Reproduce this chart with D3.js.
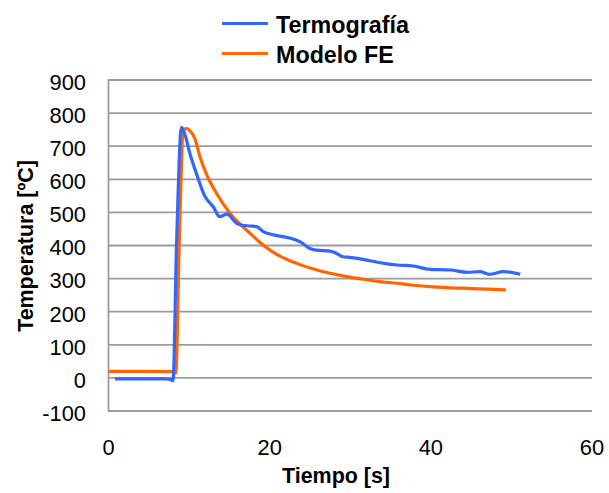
<!DOCTYPE html>
<html>
<head>
<meta charset="utf-8">
<script src="https://cdn.jsdelivr.net/npm/d3@7"></script>
<style>
  html, body { margin: 0; padding: 0; background: #fff; }
  svg { display: block; font-family: "Liberation Sans", Arial, Helvetica, sans-serif; }
</style>
</head>
<body>
<script>
// ---- data ----
const seriesNames = ["Termografía", "Modelo FE"];
const termoTimes  = [0.8, 3, 5, 7, 7.6, 8.0, 8.46, 9.05, 9.5, 10.1, 10.9, 12.0, 13.0, 13.8, 14.7, 15.9, 16.5, 17.6, 18.4, 19.2, 20.5, 22.6, 23.8, 25.0, 25.8, 27.5, 28.3, 29.1, 29.9, 31.6, 33.7, 35.8, 37.8, 39.9, 42.4, 44.5, 46.1, 47.3, 49.0, 50.0, 51.1];
const termoValues = [-3, -3, -3, -3, -4, -9, 417, 757, 734, 678, 618, 547, 517, 487, 495, 467, 462, 459, 457, 442, 432, 422, 411, 391, 386, 383, 376, 366, 364, 358, 348, 341, 338, 328, 326, 319, 321, 313, 321, 319, 313];
const feTimes  = [0, 4, 8.0, 8.35, 8.79, 9.28, 9.7, 10.1, 10.7, 11.35, 12.2, 13.4, 15.1, 17.56, 19.21, 21.28, 23.35, 25.42, 27.49, 29.56, 31.62, 33.69, 35.76, 37.83, 39.9, 42, 45, 47, 49.3];
const feValues = [20, 20, 19, 14, 417, 752, 753, 747, 724, 668, 613, 558, 497, 437, 401, 368, 346, 329, 316, 306, 298, 291, 286, 280, 276, 273, 270, 268, 266];
const xTicks = [0, 20, 40, 60];
const yTicks = [-100, 0, 100, 200, 300, 400, 500, 600, 700, 800, 900];
const xTitle = "Tiempo [s]";
const yTitle = "Temperatura [ºC]";
const colors = ["#3366FF", "#FF6600"];

// ---- layout ----
const W = 609, H = 493;
const plot = { left: 108.5, right: 592, top: 80, bottom: 411 };

const svg = d3.select("body").append("svg").attr("width", W).attr("height", H);

// pick a font size so that a sample string has the width measured on the reference
function fitSize(sample, weight, targetWidth) {
  const t = svg.append("text").attr("font-size", 100).attr("font-weight", weight).text(sample);
  const w = t.node().getComputedTextLength();
  t.remove();
  return w > 0 ? 100 * targetWidth / w : 21;
}
const tickSize = fitSize("900", "normal", 36.5);
const legendSize = fitSize("Termografía", "bold", 133);
const titleSize = fitSize("Tiempo [s]", "bold", 108);

const x = d3.scaleLinear().domain([0, 60]).range([plot.left, plot.right]);
const y = d3.scaleLinear().domain([-100, 900]).range([plot.bottom, plot.top]);

// gridlines
svg.append("g").selectAll("line").data(yTicks).join("line")
  .attr("x1", plot.left).attr("x2", plot.right)
  .attr("y1", d => y(d)).attr("y2", d => y(d))
  .attr("stroke", "#9c9c9c").attr("stroke-width", 1.8);

// left axis line
svg.append("line")
  .attr("x1", plot.left).attr("x2", plot.left)
  .attr("y1", plot.top - 0.9).attr("y2", plot.bottom + 0.9)
  .attr("stroke", "#9c9c9c").attr("stroke-width", 1.8);

// y tick labels
svg.append("g").selectAll("text").data(yTicks).join("text")
  .attr("x", 86).attr("y", d => y(d) + 0.36 * tickSize + 2)
  .attr("text-anchor", "end")
  .attr("font-size", tickSize).attr("fill", "#000")
  .text(d => d);

// x tick labels
svg.append("g").selectAll("text").data(xTicks).join("text")
  .attr("x", d => x(d)).attr("y", 455)
  .attr("text-anchor", "middle")
  .attr("font-size", tickSize).attr("fill", "#000")
  .text(d => d);

// axis titles
svg.append("text")
  .attr("x", 336).attr("y", 483)
  .attr("text-anchor", "middle").attr("font-size", titleSize).attr("font-weight", "bold")
  .text(xTitle);
svg.append("text")
  .attr("transform", "translate(33,246) rotate(-90)")
  .attr("text-anchor", "middle").attr("font-size", titleSize).attr("font-weight", "bold")
  .text(yTitle);

// series
const line = d3.line().x(d => x(d[0])).y(d => y(d[1])).curve(d3.curveMonotoneX);
const termo = termoTimes.map((t, i) => [t, termoValues[i]]);
const fe = feTimes.map((t, i) => [t, feValues[i]]);

svg.append("path").datum(fe).attr("d", line)
  .attr("fill", "none").attr("stroke", colors[1]).attr("stroke-width", 3.2)
  .attr("stroke-linejoin", "round");
svg.append("path").datum(termo).attr("d", line)
  .attr("fill", "none").attr("stroke", colors[0]).attr("stroke-width", 3.2)
  .attr("stroke-linejoin", "round");

// legend
const legend = svg.append("g");
seriesNames.forEach((name, i) => {
  const yy = 23.5 + i * 30;
  legend.append("line")
    .attr("x1", 222).attr("x2", 268).attr("y1", yy).attr("y2", yy)
    .attr("stroke", colors[i]).attr("stroke-width", 3.2);
  legend.append("text")
    .attr("x", 276).attr("y", yy + 0.36 * legendSize + 1)
    .attr("font-size", legendSize).attr("font-weight", "bold")
    .text(name);
});
</script>
</body>
</html>
